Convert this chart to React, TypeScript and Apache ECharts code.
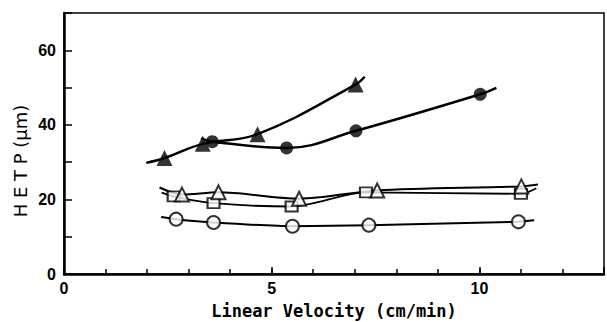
import React, { useEffect, useRef } from "react";
import * as echarts from "echarts";

// x: linear velocity (cm/min), y: HETP (µm)
const filledTriangles = [[2.42, 31.1], [3.34, 34.9], [4.66, 37.5], [7.02, 50.8]];
const filledTriangleStart = [1.98, 29.8];
const filledTriangleEnd = [7.24, 52.9];

const filledCircles = [[3.57, 35.5], [5.36, 33.8], [7.03, 38.4], [10.02, 48.2]];
const filledCircleStart = [3.3, 36.4];
const filledCircleEnd = [10.41, 49.9];

const openTriangles = [[2.84, 21.3], [3.72, 21.9], [5.66, 20.2], [7.54, 22.4], [11.01, 23.5]];
const openTriangleStart = [2.3, 23.2];
const openTriangleEnd = [11.41, 24.0];

const openSquares = [[2.64, 20.8], [3.6, 19.0], [5.48, 18.1], [7.27, 21.9], [11.0, 21.5]];
const openSquareStart = [2.35, 21.8];
const openSquareEnd = [11.37, 23.0];

const openCircles = [[2.7, 14.7], [3.6, 13.8], [5.5, 12.8], [7.34, 13.1], [10.94, 14.0]];
const openCircleStart = [2.34, 15.3];
const openCircleEnd = [11.32, 14.4];

const xTickLabels = [0, 5, 10];
const yTickLabels = [0, 20, 40, 60];

const xTitle = "Linear Velocity (cm/min)";
const yTitle = "H E T P (μm)";

export default function App() {
  const ref = useRef<HTMLDivElement>(null);

  useEffect(() => {
    if (!ref.current) return;
    const chart = echarts.init(ref.current, null, { renderer: "svg" });

    const curve = (start: number[], pts: number[][], end: number[], smooth: number | boolean, width: number) => ({
      type: "line",
      data: [start, ...pts, end],
      smooth,
      symbol: "none",
      lineStyle: { color: "#000", width },
      z: 2,
      silent: true,
    });

    const marks = (pts: number[][], symbol: string, size: any, filled: boolean) => ({
      type: "scatter",
      data: pts,
      symbol,
      symbolSize: size,
      itemStyle: filled
        ? { color: "#000" }
        : { color: "#fff", borderColor: "#000", borderWidth: 2 },
      z: 3,
      silent: true,
    });

    const labelStyle = {
      color: "#000",
      fontSize: 16,
      fontWeight: "bold",
      fontFamily: "Liberation Sans, Arial, sans-serif",
    };

    chart.setOption({
      animation: false,
      backgroundColor: "#fff",
      grid: {
        left: 64,
        top: 13,
        right: 1,
        bottom: 48,
        show: true,
        borderColor: "#000",
        borderWidth: 1.5,
      },
      xAxis: [
        {
          type: "value",
          min: 0,
          max: 13,
          interval: 1,
          axisLine: { lineStyle: { color: "#000", width: 2.5 } },
          axisTick: { inside: true, length: 5, lineStyle: { color: "#000", width: 1.5 } },
          axisLabel: {
            ...labelStyle,
            margin: 6,
            formatter: (v: number) => (xTickLabels.includes(v) ? String(v) : ""),
          },
          splitLine: { show: false },
        },
        {
          type: "value",
          min: 0,
          max: 13,
          interval: 5,
          position: "bottom",
          axisLine: { show: false },
          axisTick: { inside: true, length: 7, lineStyle: { color: "#000", width: 1.5 } },
          axisLabel: { show: false },
          splitLine: { show: false },
        },
      ],
      yAxis: {
        type: "value",
        min: 0,
        max: 70,
        interval: 10,
        axisLine: { lineStyle: { color: "#000", width: 2.5 } },
        axisTick: { inside: true, length: 8, lineStyle: { color: "#000", width: 1.5 } },
        axisLabel: {
          ...labelStyle,
          margin: 8,
          formatter: (v: number) => (yTickLabels.includes(v) ? String(v) : ""),
        },
        splitLine: { show: false },
      },
      graphic: [
        {
          type: "text",
          x: 334,
          y: 311,
          style: {
            text: xTitle,
            fill: "#000",
            fontSize: 17,
            fontWeight: "bold",
            fontFamily: "DejaVu Sans Mono, monospace",
            textAlign: "center",
            textVerticalAlign: "middle",
          },
        },
        {
          type: "text",
          x: 20,
          y: 161,
          rotation: Math.PI / 2,
          style: {
            text: yTitle,
            fill: "#000",
            fontSize: 18,
            fontFamily: "DejaVu Sans, sans-serif",
            textAlign: "center",
            textVerticalAlign: "middle",
          },
        },
      ],
      series: [
        curve(filledTriangleStart, filledTriangles, filledTriangleEnd, 0.4, 2.5),
        curve(filledCircleStart, filledCircles, filledCircleEnd, 0.4, 2.5),
        curve(openTriangleStart, openTriangles, openTriangleEnd, 0.3, 2),
        curve(openSquareStart, openSquares, openSquareEnd, 0.3, 1.8),
        curve(openCircleStart, openCircles, openCircleEnd, 0.2, 2),
        marks(filledTriangles, "triangle", 16, true),
        marks(filledCircles, "circle", 13, true),
        marks(openSquares, "rect", [12, 10], false),
        marks(openTriangles, "triangle", 14, false),
        marks(openCircles, "circle", 13, false),
      ],
    });

    return () => chart.dispose();
  }, []);

  return <div ref={ref} style={{ width: 607, height: 322, position: "absolute", left: 0, top: 0 }} />;
}
